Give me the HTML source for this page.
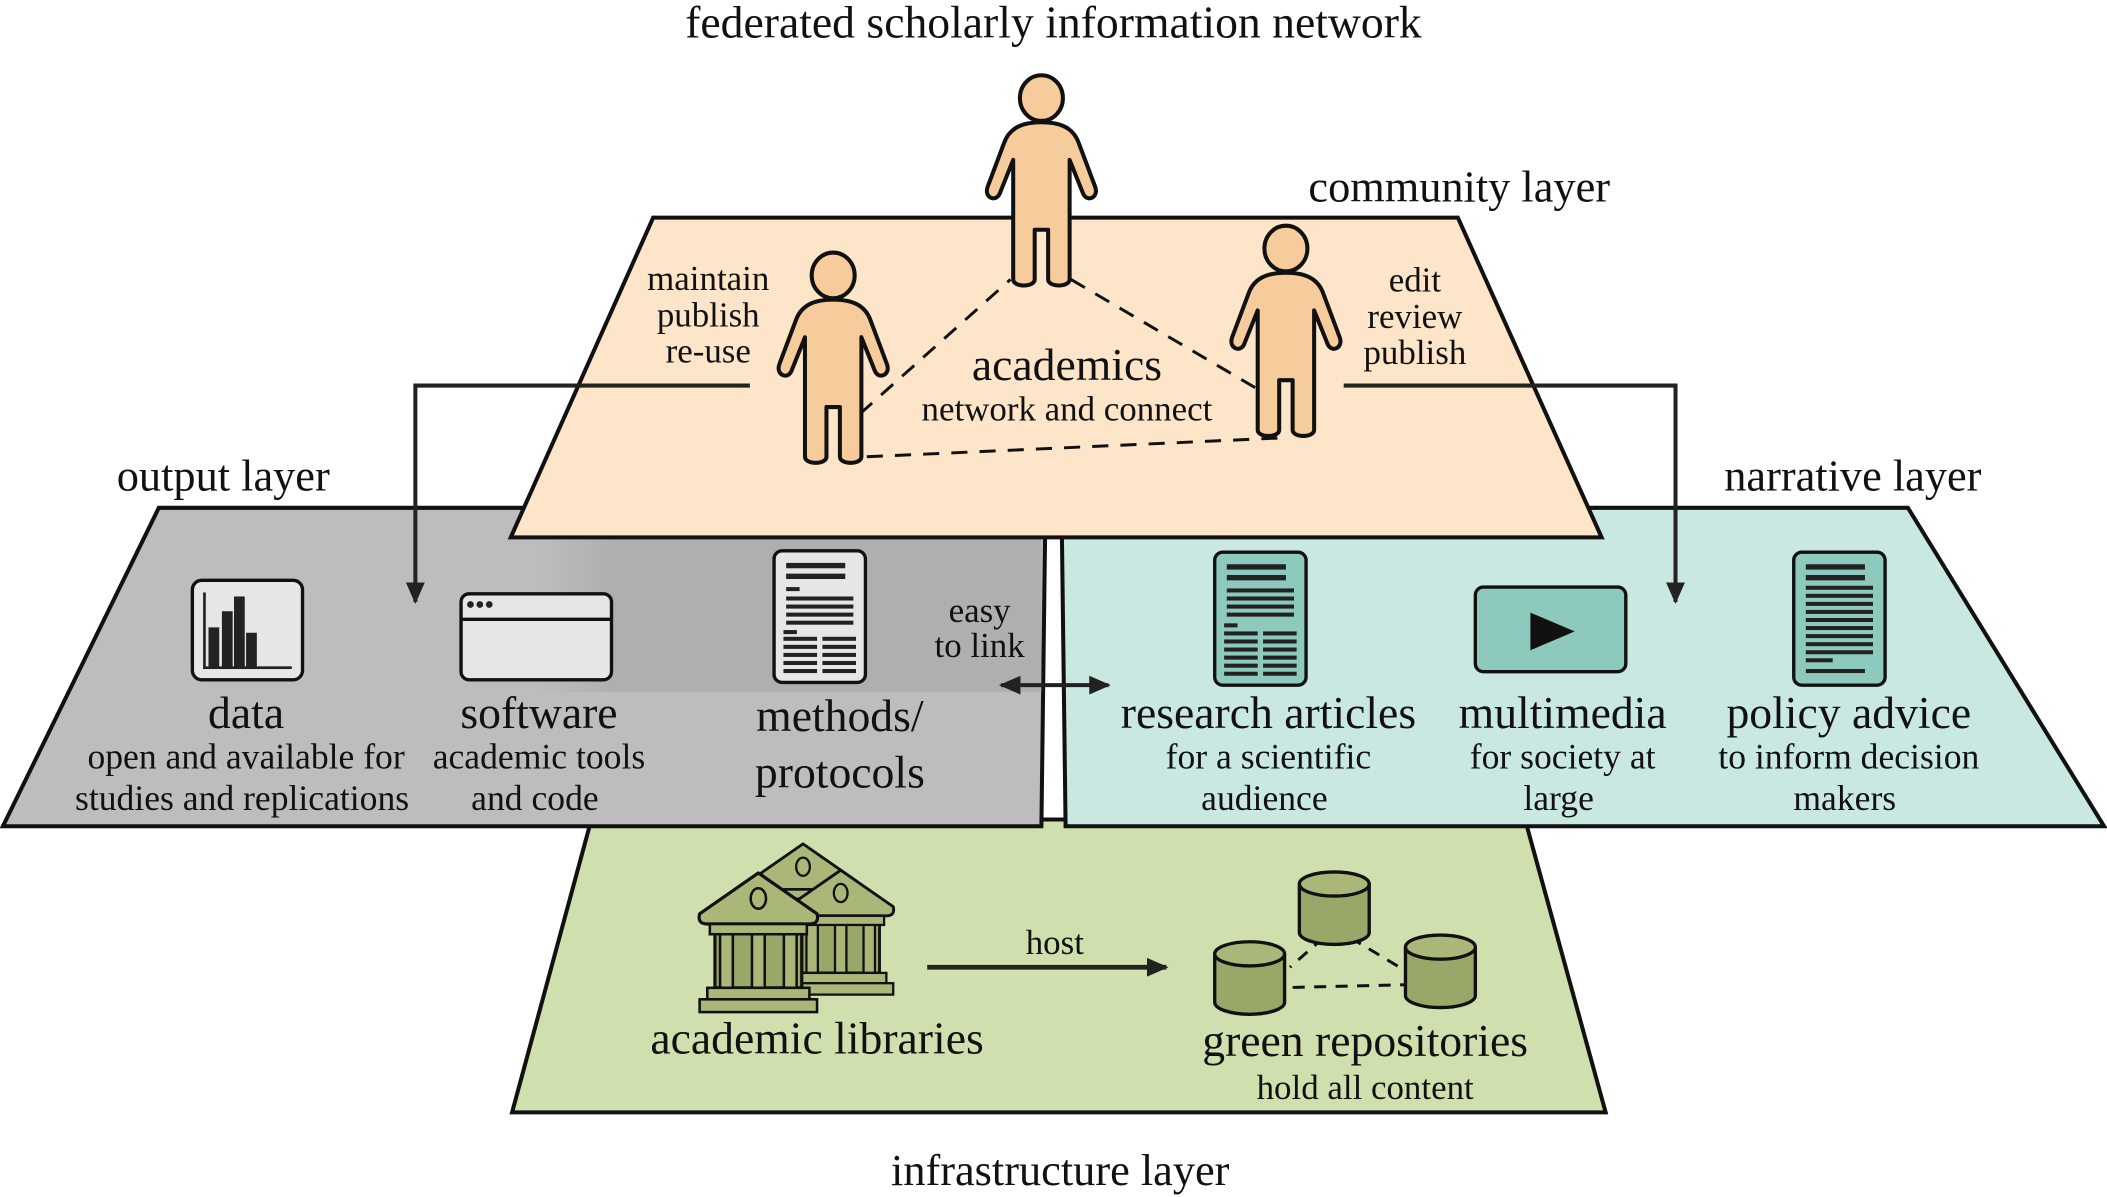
<!DOCTYPE html>
<html><head><meta charset="utf-8"><style>
html,body{margin:0;padding:0;background:#fff}
svg{display:block}
text{font-family:"Liberation Serif",serif;fill:#111}
</style></head><body>
<svg width="2107" height="1197" viewBox="0 0 1568 891" xmlns="http://www.w3.org/2000/svg">
<defs>
<g id="person">
<path d="M0,18 C-14,18 -24,22 -28,34 L-40,66 C-43,74 -34,78 -31,71 L-21,46 L-21,135 C-21,141 -5,141 -5,135 L-5,98 L5,98 L5,135 C5,141 21,141 21,135 L21,46 L31,71 C34,78 43,74 40,66 L28,34 C24,22 14,18 0,18 Z" fill="#f7cc9d" stroke="#111" stroke-width="3" stroke-linejoin="round"/>
<ellipse cx="0" cy="0" rx="16" ry="17" fill="#f7cc9d" stroke="#111" stroke-width="3"/>
</g>
<g id="cyl">
<path d="M-26,-18 L-26,18 A26,9 0 0 0 26,18 L26,-18" fill="#98a868" stroke="#111" stroke-width="2.5"/>
<ellipse cx="0" cy="-18" rx="26" ry="9" fill="#a9b878" stroke="#111" stroke-width="2.5"/>
</g>
<g id="bank">
<path d="M-46,-10 L0,-42 L46,-10 Q48,-2 40,-2 L-40,-2 Q-48,-2 -46,-10 Z" fill="#a9b878" stroke="#111" stroke-width="2.5" stroke-linejoin="round"/>
<ellipse cx="0" cy="-22" rx="6" ry="8" fill="#a9b878" stroke="#111" stroke-width="2"/>
<rect x="-34" y="-2" width="68" height="50" fill="#98a868" stroke="#111" stroke-width="2.5"/>
<g fill="#a9b878" stroke="#111" stroke-width="2">
<rect x="-30" y="-2" width="10" height="50"/><rect x="-5" y="-2" width="10" height="50"/><rect x="20" y="-2" width="10" height="50"/>
<rect x="-38" y="-2" width="76" height="8"/>
<rect x="-40" y="48" width="80" height="9"/>
<rect x="-46" y="57" width="92" height="10"/>
</g>
</g>
<g id="doc">
<rect x="0" y="0" width="68" height="98" rx="6" fill="#e6e6e6" stroke="#111" stroke-width="2.5"/>
<g fill="#222">
<rect x="9" y="9" width="44" height="4"/><rect x="9" y="17" width="44" height="4"/>
<rect x="9" y="27" width="10" height="3"/>
<rect x="9" y="34" width="50" height="3"/><rect x="9" y="40" width="50" height="3"/><rect x="9" y="46" width="50" height="3"/><rect x="9" y="52" width="50" height="3"/>
<rect x="7" y="59" width="10" height="3"/>
<rect x="7" y="64" width="25" height="3"/><rect x="36" y="64" width="25" height="3"/>
<rect x="7" y="70" width="25" height="3"/><rect x="36" y="70" width="25" height="3"/>
<rect x="7" y="76" width="25" height="3"/><rect x="36" y="76" width="25" height="3"/>
<rect x="7" y="82" width="25" height="3"/><rect x="36" y="82" width="25" height="3"/>
<rect x="7" y="88" width="25" height="3"/><rect x="36" y="88" width="25" height="3"/>
</g>
</g>
<marker id="ah" viewBox="0 0 10 10" refX="9" refY="5" markerWidth="16" markerHeight="14" orient="auto-start-reverse" markerUnits="userSpaceOnUse" preserveAspectRatio="none">
<path d="M0,0 L10,5 L0,10 Z" fill="#222"/>
</marker>
<linearGradient id="gshade" x1="0" x2="1" y1="0" y2="0">
<stop offset="0" stop-color="#a9a9a9" stop-opacity="0"/><stop offset="0.15" stop-color="#a9a9a9" stop-opacity="0.7"/><stop offset="1" stop-color="#a9a9a9" stop-opacity="0.7"/>
</linearGradient>
</defs>

<!-- infrastructure layer -->
<path d="M440,610 L1135,610 L1195,828 L381,828 Z" fill="#cfe0ae" stroke="#111" stroke-width="3"/>
<!-- output layer -->
<path d="M118,378 L778,378 L775,615 L2,615 Z" fill="#bdbdbd" stroke="#111" stroke-width="3"/>
<rect x="400" y="400" width="375" height="115" fill="url(#gshade)"/>
<!-- narrative layer -->
<path d="M790,378 L1420,378 L1566,615 L793,615 Z" fill="#c9e8e2" stroke="#111" stroke-width="3"/>
<!-- community layer -->
<path d="M486,162 L1085,162 L1192,400 L380,400 Z" fill="#fce5c8" stroke="#111" stroke-width="3"/>

<text x="784" y="28" font-size="34" text-anchor="middle">federated scholarly information network</text>
<text x="1086" y="150" font-size="33" text-anchor="middle">community layer</text>
<text x="166" y="365" font-size="33" text-anchor="middle">output layer</text>
<text x="1379" y="365" font-size="33" text-anchor="middle">narrative layer</text>
<text x="789" y="882" font-size="33" text-anchor="middle">infrastructure layer</text>

<!-- dashed network -->
<g stroke="#111" stroke-width="2.2" stroke-dasharray="12,9" fill="none">
<line x1="640" y1="308" x2="752" y2="208"/>
<line x1="797" y1="208" x2="940" y2="292"/>
<line x1="645" y1="340" x2="953" y2="326"/>
</g>
<use href="#person" x="775" y="73"/>
<use href="#person" x="620" y="205"/>
<use href="#person" x="957" y="185"/>

<text x="527" y="216" font-size="26" text-anchor="middle">maintain</text>
<text x="527" y="243" font-size="26" text-anchor="middle">publish</text>
<text x="527" y="270" font-size="26" text-anchor="middle">re-use</text>
<text x="1053" y="217" font-size="26" text-anchor="middle">edit</text>
<text x="1053" y="244" font-size="26" text-anchor="middle">review</text>
<text x="1053" y="271" font-size="26" text-anchor="middle">publish</text>
<text x="794" y="283" font-size="34" text-anchor="middle">academics</text>
<text x="794" y="313" font-size="26" text-anchor="middle">network and connect</text>

<!-- feedback arrows -->
<path d="M558,287 L309,287 L309,448" fill="none" stroke="#222" stroke-width="3" marker-end="url(#ah)"/>
<path d="M1000,287 L1247,287 L1247,448" fill="none" stroke="#222" stroke-width="3" marker-end="url(#ah)"/>

<!-- output icons -->
<rect x="143" y="432" width="82" height="74" rx="7" fill="#e6e6e6" stroke="#111" stroke-width="2.5"/>
<g fill="#222"><rect x="151" y="441" width="2" height="57"/><rect x="151" y="496" width="66" height="2"/>
<rect x="155" y="467" width="8" height="30"/><rect x="165" y="455" width="8" height="42"/><rect x="174" y="444" width="8" height="53"/>
<rect x="183" y="471" width="8" height="26"/></g>
<rect x="343" y="442" width="112" height="64" rx="6" fill="#e6e6e6" stroke="#111" stroke-width="2.5"/>
<line x1="343" y1="461" x2="455" y2="461" stroke="#111" stroke-width="2.5"/>
<circle cx="350" cy="450" r="2.5" fill="#222"/><circle cx="357" cy="450" r="2.5" fill="#222"/><circle cx="364" cy="450" r="2.5" fill="#222"/>
<use href="#doc" x="576" y="410"/>

<text x="183" y="542" font-size="34" text-anchor="middle">data</text>
<text x="183" y="572" font-size="26.5" text-anchor="middle">open and available for</text>
<text x="180" y="603" font-size="26.5" text-anchor="middle">studies and replications</text>
<text x="401" y="542" font-size="34" text-anchor="middle">software</text>
<text x="401" y="572" font-size="26.5" text-anchor="middle">academic tools</text>
<text x="398" y="603" font-size="26.5" text-anchor="middle">and code</text>
<text x="625" y="544" font-size="34" text-anchor="middle">methods/</text>
<text x="625" y="586" font-size="34" text-anchor="middle">protocols</text>
<text x="729" y="463" font-size="26" text-anchor="middle">easy</text>
<text x="729" y="489" font-size="26" text-anchor="middle">to link</text>
<line x1="745" y1="510" x2="825" y2="510" stroke="#222" stroke-width="3" marker-start="url(#ah)" marker-end="url(#ah)"/>

<!-- narrative icons -->
<rect x="904" y="411" width="68" height="99" rx="6" fill="#8ec9be" stroke="#111" stroke-width="2.5"/>
<g fill="#222">
<rect x="913" y="420" width="44" height="4"/><rect x="913" y="428" width="44" height="4"/>
<rect x="913" y="438" width="50" height="3"/><rect x="913" y="444" width="50" height="3"/><rect x="913" y="450" width="50" height="3"/><rect x="913" y="456" width="50" height="3"/>
<rect x="911" y="464" width="10" height="3"/>
<rect x="911" y="470" width="25" height="3"/><rect x="940" y="470" width="25" height="3"/>
<rect x="911" y="476" width="25" height="3"/><rect x="940" y="476" width="25" height="3"/>
<rect x="911" y="482" width="25" height="3"/><rect x="940" y="482" width="25" height="3"/>
<rect x="911" y="488" width="25" height="3"/><rect x="940" y="488" width="25" height="3"/>
<rect x="911" y="494" width="25" height="3"/><rect x="940" y="494" width="25" height="3"/>
<rect x="911" y="500" width="25" height="3"/><rect x="940" y="500" width="25" height="3"/>
</g>
<rect x="1098" y="437" width="112" height="63" rx="6" fill="#8ec9be" stroke="#111" stroke-width="2.5"/>
<path d="M1139,456 L1172,470 L1139,484 Z" fill="#111"/>
<rect x="1335" y="411" width="68" height="99" rx="6" fill="#8ec9be" stroke="#111" stroke-width="2.5"/>
<g fill="#222">
<rect x="1344" y="420" width="44" height="4"/><rect x="1344" y="428" width="44" height="4"/>
<rect x="1344" y="436" width="50" height="3"/><rect x="1344" y="442" width="50" height="3"/><rect x="1344" y="448" width="50" height="3"/><rect x="1344" y="454" width="50" height="3"/>
<rect x="1344" y="460" width="50" height="3"/><rect x="1344" y="466" width="50" height="3"/><rect x="1344" y="472" width="50" height="3"/><rect x="1344" y="478" width="50" height="3"/>
<rect x="1344" y="484" width="50" height="3"/><rect x="1344" y="490" width="20" height="3"/><rect x="1344" y="498" width="44" height="3"/>
</g>
<text x="944" y="542" font-size="34" text-anchor="middle">research articles</text>
<text x="944" y="572" font-size="26.5" text-anchor="middle">for a scientific</text>
<text x="941" y="603" font-size="26.5" text-anchor="middle">audience</text>
<text x="1163" y="542" font-size="34" text-anchor="middle">multimedia</text>
<text x="1163" y="572" font-size="26.5" text-anchor="middle">for society at</text>
<text x="1160" y="603" font-size="26.5" text-anchor="middle">large</text>
<text x="1376" y="542" font-size="34" text-anchor="middle">policy advice</text>
<text x="1376" y="572" font-size="26.5" text-anchor="middle">to inform decision</text>
<text x="1373" y="603" font-size="26.5" text-anchor="middle">makers</text>

<!-- infrastructure icons -->
<use href="#bank" x="598" y="664" transform="scale(0.85) translate(105,117)"/>
<use href="#bank" x="626" y="684" transform="scale(0.85) translate(110,120)"/>
<use href="#bank" x="564" y="690" transform="scale(0.95) translate(30,36)"/>
<line x1="690" y1="720" x2="868" y2="720" stroke="#222" stroke-width="3.5" marker-end="url(#ah)"/>
<text x="785" y="710" font-size="26" text-anchor="middle">host</text>
<g stroke="#111" stroke-width="2.2" stroke-dasharray="9,7" fill="none">
<line x1="985" y1="698" x2="960" y2="720"/>
<line x1="1005" y1="698" x2="1045" y2="722"/>
<line x1="962" y1="735" x2="1046" y2="733"/>
</g>
<use href="#cyl" x="993" y="676"/>
<use href="#cyl" x="930" y="728"/>
<use href="#cyl" x="1072" y="723"/>
<text x="608" y="784" font-size="34" text-anchor="middle">academic libraries</text>
<text x="1016" y="786" font-size="34" text-anchor="middle">green repositories</text>
<text x="1016" y="818" font-size="26" text-anchor="middle">hold all content</text>
</svg>
</body></html>
